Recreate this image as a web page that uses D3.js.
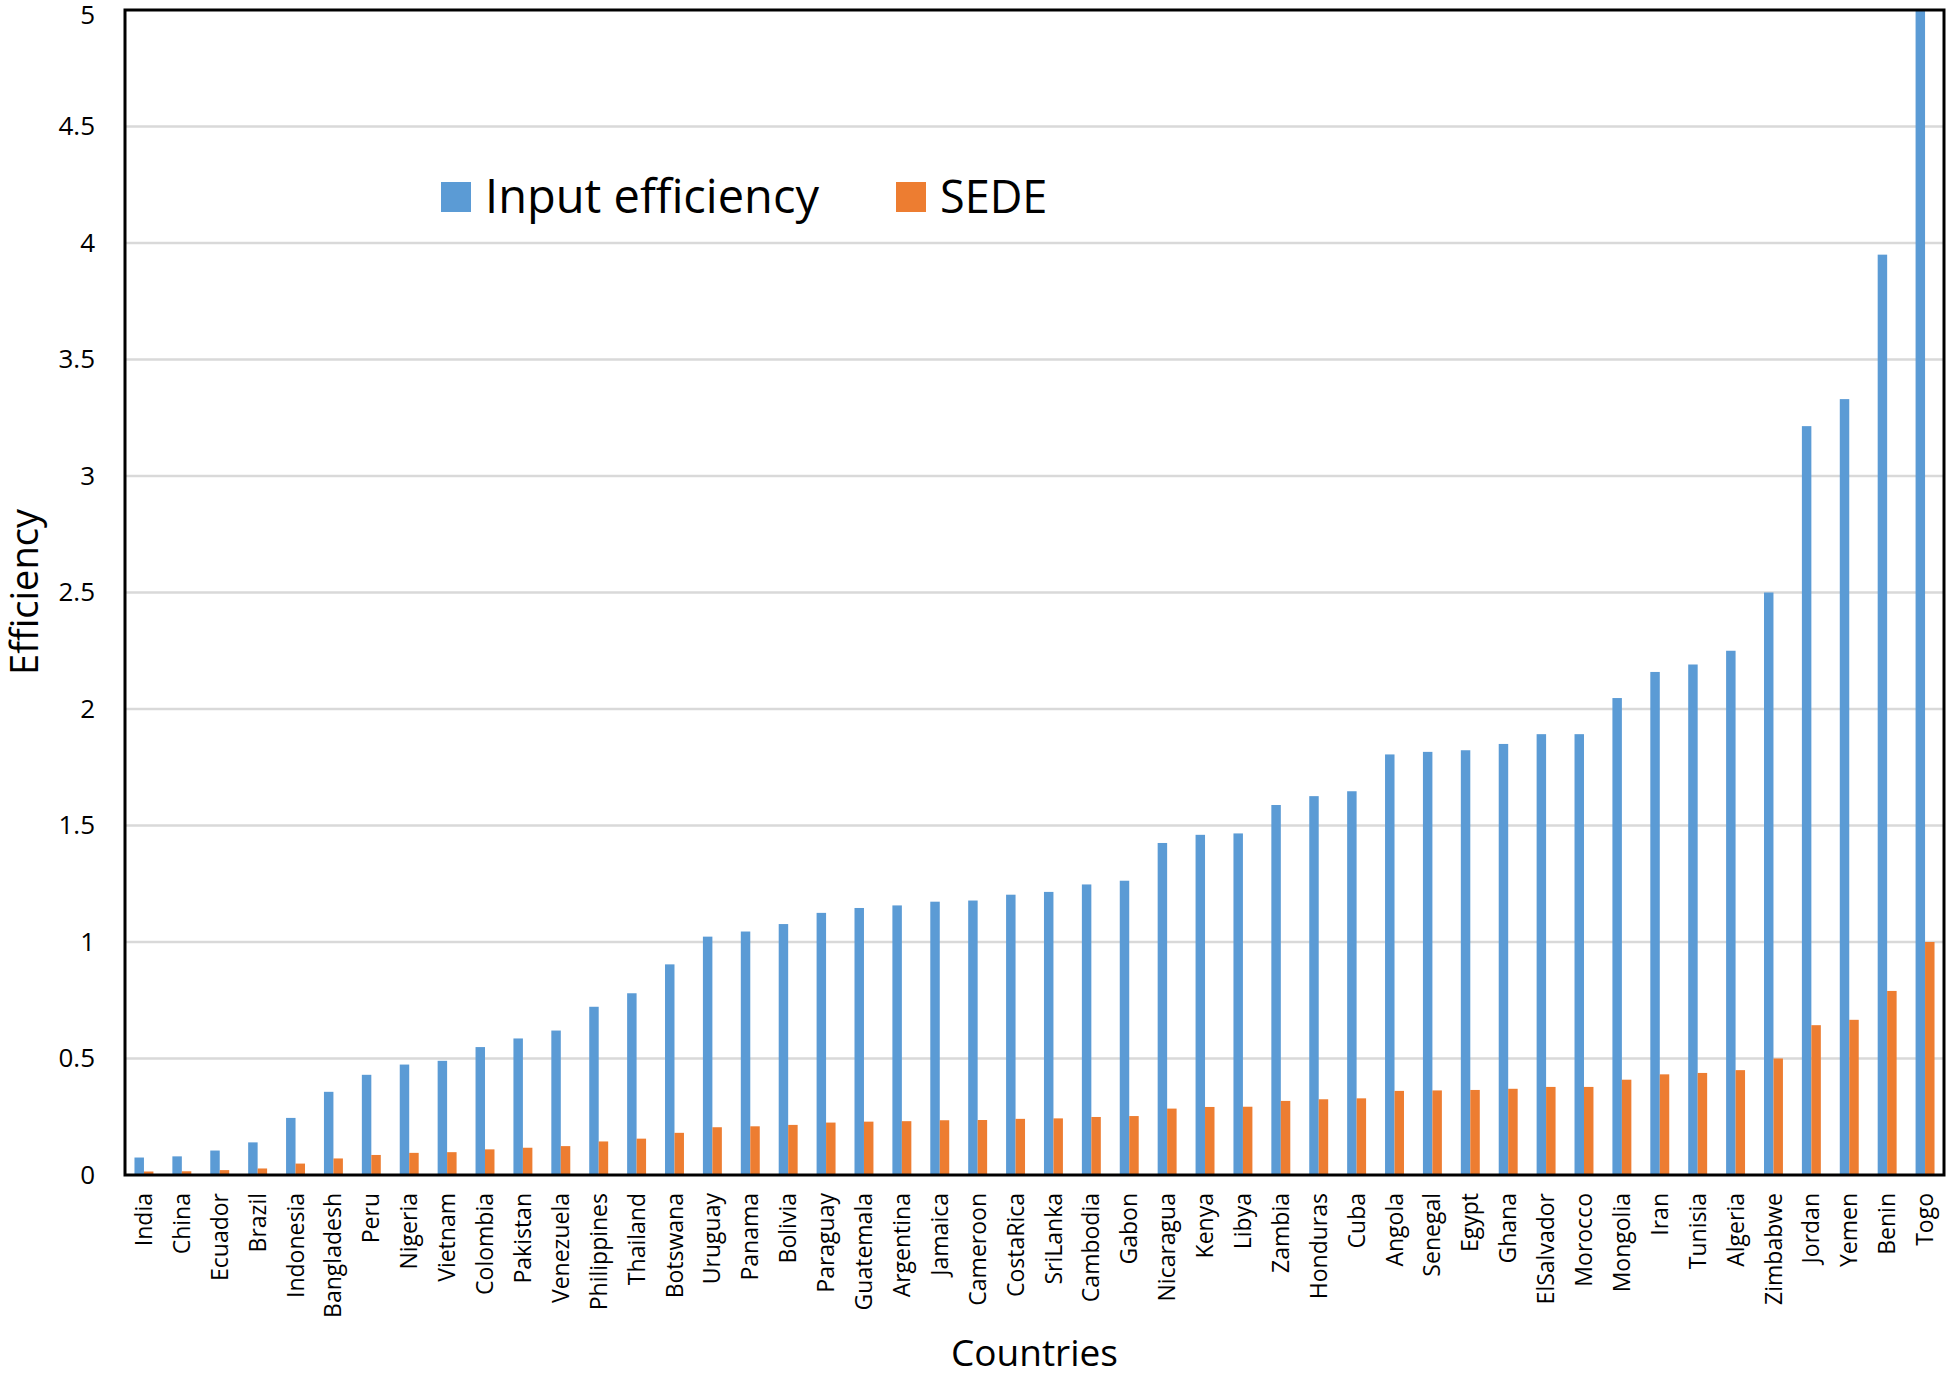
<!DOCTYPE html>
<html>
<head>
<meta charset="utf-8">
<script src="https://cdn.jsdelivr.net/npm/d3@7"></script>
<style>
  html, body { margin: 0; padding: 0; background: #fff; }
  svg { display: block; }
  text { font-family: "Open Sans", sans-serif; fill: #000; }
</style>
</head>
<body>
<svg id="chart" width="1947" height="1374"></svg>
<script>
const countries = ["India","China","Ecuador","Brazil","Indonesia","Bangladesh","Peru","Nigeria","Vietnam","Colombia","Pakistan","Venezuela","Philippines","Thailand","Botswana","Uruguay","Panama","Bolivia","Paraguay","Guatemala","Argentina","Jamaica","Cameroon","CostaRica","SriLanka","Cambodia","Gabon","Nicaragua","Kenya","Libya","Zambia","Honduras","Cuba","Angola","Senegal","Egypt","Ghana","ElSalvador","Morocco","Mongolia","Iran","Tunisia","Algeria","Zimbabwe","Jordan","Yemen","Benin","Togo"];

const inputEfficiency = [0.075,0.08,0.105,0.14,0.245,0.357,0.43,0.474,0.49,0.549,0.586,0.62,0.722,0.78,0.904,1.023,1.045,1.077,1.125,1.146,1.157,1.173,1.178,1.203,1.215,1.247,1.263,1.425,1.46,1.466,1.588,1.626,1.647,1.805,1.816,1.823,1.85,1.892,1.892,2.047,2.159,2.191,2.25,2.5,3.214,3.33,3.95,5.0];

const sede = [0.015,0.016,0.021,0.028,0.049,0.071,0.086,0.095,0.098,0.11,0.117,0.124,0.144,0.156,0.181,0.205,0.209,0.215,0.225,0.229,0.231,0.235,0.236,0.241,0.243,0.249,0.253,0.285,0.292,0.293,0.318,0.325,0.329,0.361,0.363,0.365,0.37,0.378,0.378,0.409,0.432,0.438,0.45,0.5,0.643,0.666,0.79,1.0];

const yTicks = [0,0.5,1,1.5,2,2.5,3,3.5,4,4.5,5];
const seriesNames = ["Input efficiency","SEDE"];
const seriesColors = ["#5b9bd5","#ed7d31"];

const svg = d3.select("#chart");
const mLeft = 125, mRight = 1944, mTop = 10, mBottom = 1175;

const x = d3.scaleBand().domain(countries).range([mLeft, mRight]).paddingInner(0.5).paddingOuter(0.25);
const xs = d3.scaleBand().domain([0,1]).range([0, x.bandwidth()]);
const y = d3.scaleLinear().domain([0,5]).range([mBottom, mTop]);

// gridlines
svg.append("g").selectAll("line").data(yTicks.filter(t => t > 0 && t < 5)).join("line")
  .attr("x1", mLeft).attr("x2", mRight)
  .attr("y1", d => y(d)).attr("y2", d => y(d))
  .attr("stroke", "#d9d9d9").attr("stroke-width", 2.5);

// bars
const series = [inputEfficiency, sede];
series.forEach((vals, si) => {
  svg.append("g").selectAll("rect").data(countries).join("rect")
    .attr("x", (d) => x(d) + xs(si))
    .attr("width", xs.bandwidth())
    .attr("y", (d, i) => y(vals[i]))
    .attr("height", (d, i) => y(0) - y(vals[i]))
    .attr("fill", seriesColors[si]);
});

// frame
svg.append("rect")
  .attr("x", mLeft).attr("y", mTop)
  .attr("width", mRight - mLeft).attr("height", mBottom - mTop)
  .attr("fill", "none").attr("stroke", "#000").attr("stroke-width", 3);

// y axis
const yAxis = d3.axisLeft(y).tickValues(yTicks).tickSize(0).tickPadding(30).tickFormat(d3.format("~g"));
const yg = svg.append("g").attr("transform", `translate(${mLeft},0)`).call(yAxis);
yg.select(".domain").remove();
yg.selectAll("text").style("font-family", '"Open Sans", sans-serif').style("font-size", "26px").attr("fill", "#000");
yg.selectAll(".tick").filter(d => d === 5).select("text").attr("dy", "0.5em");

// x axis
const xAxis = d3.axisBottom(x).tickSize(0).tickPadding(0);
const xg = svg.append("g").attr("transform", `translate(0,${mBottom})`).call(xAxis);
xg.select(".domain").remove();
xg.selectAll("text")
  .style("font-family", '"Open Sans", sans-serif').style("font-size", "23px").attr("fill", "#000")
  .attr("text-anchor", "end")
  .attr("transform", "translate(0,18) rotate(-90)")
  .attr("x", 0).attr("y", 0).attr("dy", "0.35em");

// axis titles
svg.append("text").attr("x", (mLeft + mRight) / 2).attr("y", 1366)
  .attr("text-anchor", "middle").style("font-size", "37px").text("Countries");
svg.append("text").attr("transform", `translate(38,${592}) rotate(-90)`)
  .attr("text-anchor", "middle").style("font-size", "38px").text("Efficiency");

// legend
const legendX = [441, 896];
seriesNames.forEach((name, i) => {
  const g = svg.append("g").attr("transform", `translate(${legendX[i]},182)`);
  g.append("rect").attr("width", 30).attr("height", 30).attr("fill", seriesColors[i]);
  g.append("text").attr("x", 44).attr("y", 31).style("font-size", i === 0 ? "47px" : "45px").text(name);
});
</script>
</body>
</html>
